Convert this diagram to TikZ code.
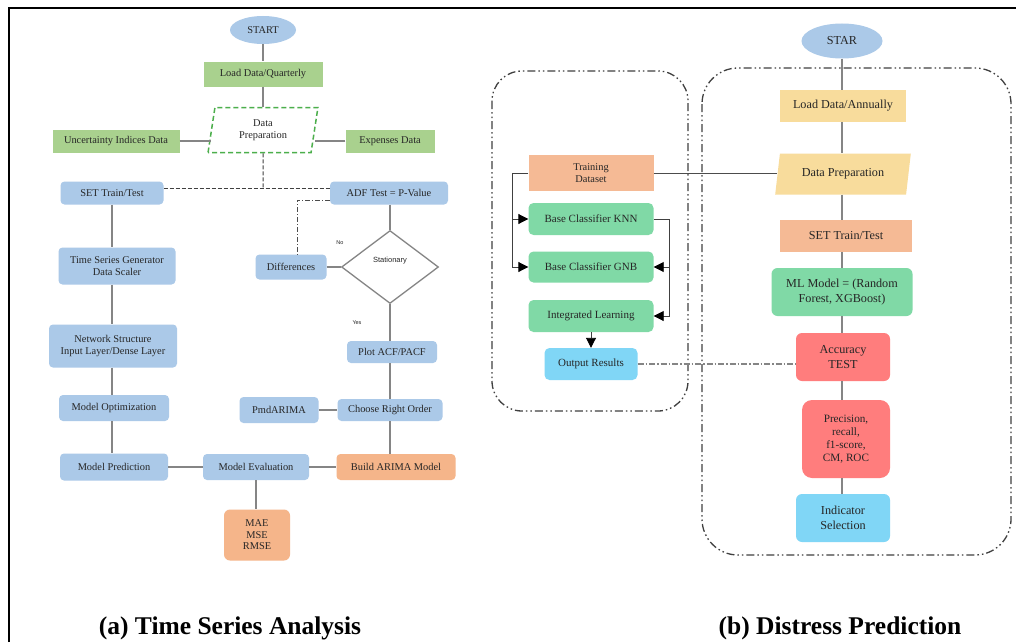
\documentclass[tikz,border=0pt]{standalone}
\usepackage{fontspec}
\setmainfont{Liberation Serif}
\newfontfamily\labelsans{Liberation Sans}
\usetikzlibrary{shapes.geometric,arrows.meta}
\definecolor{tsblue}{HTML}{ABC9E8}
\definecolor{tsgreen}{HTML}{A9D18E}
\definecolor{tsorange}{HTML}{F5B58A}
\definecolor{dpyellow}{HTML}{F8DC9C}
\definecolor{dpsalmon}{HTML}{F5BA95}
\definecolor{dpmint}{HTML}{80D9A6}
\definecolor{dpred}{HTML}{FF7D7D}
\definecolor{dpcyan}{HTML}{80D6F6}
\definecolor{linkgray}{HTML}{858585}
\begin{document}
\begin{tikzpicture}[x=1pt,y=-1pt,
  every node/.style={font=\fontsize{10.4}{11.5}\selectfont,text=black!85,align=center,inner sep=1pt},
  wh/.style 2 args={minimum width=#1,minimum height=#2},
  lbox/.style={fill=tsblue,rounded corners=4pt},
  gbox/.style={fill=tsgreen},
  obox/.style={fill=tsorange,rounded corners=4pt},
  rbox/.style={rounded corners=6pt,font=\fontsize{12.2}{14.5}\selectfont},
  cbox/.style={rounded corners=5pt},
  link/.style={draw=linkgray,line width=1.2pt},
  flow/.style={draw=black!75,line width=0.9pt,-{Triangle[length=10pt,width=10pt,color=black]}},
  dashdot/.style={draw=black!75,line width=1.3pt,dash pattern=on 8pt off 3pt on 1.5pt off 3pt on 1.5pt off 3pt},
  caption/.style={font=\fontsize{25.5}{28}\selectfont\bfseries,text=black,anchor=base}]
\useasboundingbox (0,0) rectangle (1016,642);
\fill[white] (0,0) rectangle (1016,642);
\draw[line width=1.8pt] (9,642) -- (9,8) -- (1016,8);

% (a) time series analysis
\node[ellipse,fill=tsblue,wh={66}{28}] (start) at (263,30) {START};
\node[gbox,wh={119}{25}] (loadq) at (263,74) {Load Data/Quarterly};
\node[trapezium,trapezium left angle=81,trapezium right angle=99,trapezium stretches=true,
  draw=green!55!black!70,dash pattern=on 5pt off 3pt,line width=1.5pt,fill=white,wh={110}{45}] (dprepa) at (263,130) {Data\\Preparation};
\node[gbox,wh={127}{23}] (unc) at (116,141) {Uncertainty Indices Data};
\node[gbox,wh={89}{23}] (expd) at (390,141) {Expenses Data};
\node[lbox,wh={103}{23}] (setta) at (112,193) {SET Train/Test};
\node[lbox,wh={118}{23}] (adf) at (389,193) {ADF Test = P-Value};
\node[lbox,wh={117}{37}] (tsg) at (117,266) {Time Series Generator\\Data Scaler};
\node[lbox,wh={71}{25}] (diff) at (291,267) {Differences};
\node[diamond,draw=linkgray,line width=1.3pt,fill=white,wh={97}{73},inner sep=0pt,
  text height=6pt,text depth=16pt,font=\labelsans\fontsize{7.5}{8}\selectfont] (stat) at (390,267) {Stationary};
\node[font=\labelsans\fontsize{5.5}{6}\selectfont] (lno) at (340,243) {No};
\node[font=\labelsans\fontsize{5.5}{6}\selectfont] (lyes) at (357,323) {Yes};
\node[lbox,wh={90}{22}] (plot) at (392,352) {Plot ACF/PACF};
\node[lbox,wh={128}{43}] (net) at (113,346) {Network Structure\\Input Layer/Dense Layer};
\node[lbox,wh={110}{26}] (mopt) at (114,408) {Model Optimization};
\node[lbox,wh={79}{26}] (pmd) at (279,410) {PmdARIMA};
\node[lbox,wh={105}{22}] (choose) at (390,410) {Choose Right Order};
\node[lbox,wh={108}{27}] (mpred) at (114,467) {Model Prediction};
\node[lbox,wh={106}{26}] (meval) at (256,467) {Model Evaluation};
\node[obox,wh={119}{26}] (build) at (396,467) {Build ARIMA Model};
\node[obox,rounded corners=6pt,wh={66}{51}] (metrics) at (257,535) {MAE\\MSE\\RMSE};
\node[caption] (capa) at (230,634) {(a) Time Series Analysis};

\draw[link] (start) -- (loadq);
\draw[link] (loadq) -- (dprepa);
\draw[link] (unc.east) -- (unc.east -| dprepa.west);
\draw[link] (expd.west) -- (expd.west -| dprepa.east);
\coordinate (split) at (263,188);
\draw[black!75,line width=1pt,dash pattern=on 4pt off 2pt] (dprepa.south) -- (split);
\draw[black!75,line width=1pt,dash pattern=on 4pt off 2pt] (split -| setta.east) -- (split -| adf.west);
\draw[black!70,line width=1pt,dash pattern=on 5pt off 2pt on 1pt off 2pt]
  ([yshift=-7pt]adf.west) -| ([xshift=6pt]diff.north);
\draw[link] (setta) -- (setta |- tsg.north);
\draw[link] (setta |- tsg.south) -- (setta |- net.north);
\draw[link] (setta |- net.south) -- (setta |- mopt.north);
\draw[link] (setta |- mopt.south) -- (setta |- mpred.north);
\draw[link] (adf.south -| stat.north) -- (stat);
\draw[link] (diff) -- (stat);
\draw[link] (stat) -- (stat |- plot.north);
\draw[link] (stat |- plot.south) -- (stat |- choose.north);
\draw[link] (pmd) -- (choose);
\draw[link] (stat |- choose.south) -- (stat |- build.north);
\draw[link] (mpred) -- (meval);
\draw[link] (meval) -- (build);
\draw[link] (meval) -- (meval |- metrics.north);

% (b) distress prediction
\draw[dashdot,rounded corners=30pt] (492,71) rectangle (688,411);
\draw[dashdot,rounded corners=36pt] (702,68) rectangle (1011,555);
\node[ellipse,fill=tsblue,wh={81}{35},font=\fontsize{12.2}{14}\selectfont] (star) at (842,41) {STAR};
\node[fill=dpyellow,wh={126}{32},font=\fontsize{12.2}{14}\selectfont] (loadb) at (843,106) {Load Data/Annually};
\node[trapezium,trapezium left angle=76,trapezium right angle=104,trapezium stretches=true,
  fill=dpyellow,wh={136}{41},font=\fontsize{12.2}{14}\selectfont] (dprepb) at (843,174) {Data Preparation};
\node[fill=dpsalmon,wh={132}{32},font=\fontsize{12.2}{14}\selectfont] (settb) at (846,236) {SET Train/Test};
\node[rbox,fill=dpmint,wh={141}{48}] (ml) at (842,292) {ML Model = (Random\\Forest, XGBoost)};
\node[rbox,fill=dpred,wh={94}{48}] (acc) at (843,357) {Accuracy\\TEST};
\node[rbox,fill=dpred,wh={88}{78},rounded corners=10pt,font=\fontsize{11.2}{13}\selectfont] (prec) at (846,439) {Precision,\\recall,\\f1-score,\\CM, ROC};
\node[rbox,fill=dpcyan,wh={94}{48}] (ind) at (843,518) {Indicator\\Selection};

\node[fill=dpsalmon,wh={125}{36}] (train) at (591,173) {Training\\Dataset};
\node[cbox,fill=dpmint,wh={125}{32},font=\fontsize{11}{12}\selectfont] (knn) at (591,219) {Base Classifier KNN};
\node[cbox,fill=dpmint,wh={125}{31},font=\fontsize{11}{12}\selectfont] (gnb) at (591,267) {Base Classifier GNB};
\node[cbox,fill=dpmint,wh={125}{32},font=\fontsize{11}{12}\selectfont] (intl) at (591,316) {Integrated Learning};
\node[cbox,fill=dpcyan,wh={93}{32},font=\fontsize{11}{12}\selectfont] (outr) at (591,364) {Output Results};
\node[caption] (capb) at (840,634) {(b) Distress Prediction};

\draw[link] (star) -- (star |- loadb.north);
\draw[link] (star |- loadb.south) -- (star |- dprepb.north);
\draw[link] (star |- dprepb.south) -- (star |- settb.north);
\draw[link] (star |- settb.south) -- (star |- ml.north);
\draw[link] (star |- ml.south) -- (star |- acc.north);
\draw[link] (star |- acc.south) -- (star |- prec.north);
\draw[link] (star |- prec.south) -- (star |- ind.north);
\draw[black!70,line width=1pt] (train.east) -- (train.east -| dprepb.west);
\draw[flow] (train.west) -| ([xshift=-16pt]gnb.west) -- (gnb.west);
\draw[flow] ([xshift=-16pt]knn.west) -- (knn.west);
\draw[flow] (knn.east) -| ([xshift=16pt]intl.east) -- (intl.east);
\draw[flow] ([xshift=16pt]gnb.east) -- (gnb.east);
\draw[flow] (intl) -- (outr);
\draw[linkgray,line width=1.2pt,dash pattern=on 6pt off 2pt on 1.5pt off 2pt] (outr.east) -- (outr.east -| acc.west);
\end{tikzpicture}
\end{document}
